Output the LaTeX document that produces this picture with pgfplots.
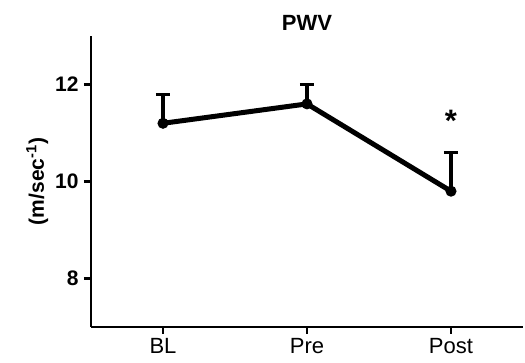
\documentclass[border=0pt]{standalone}
\usepackage{fontspec}
\setmainfont{Liberation Sans}
\usepackage{pgfplots}
\pgfplotsset{compat=1.18}
\begin{document}
\begin{tikzpicture}
\begin{axis}[
  at={(0pt,0pt)}, anchor=south west,
  scale only axis,
  width=432pt, height=291pt,
  xmin=-0.5, xmax=2.5,
  ymin=7, ymax=13,
  axis x line*=bottom, axis y line*=left,
  axis line style={line width=2.3pt},
  xtick={0,1,2},
  xticklabels={BL,Pre,Post},
  ytick={8,10,12},
  tick align=outside,
  major tick length=7pt,
  tick style={line width=2.3pt, black},
  /pgf/number format/assume math mode=true,
  xticklabel style={font=\fontsize{22}{24}\selectfont, yshift=-1pt},
  yticklabel style={font=\fontsize{21}{24}\selectfont\bfseries, xshift=-2pt},
  title={PWV},
  title style={font=\fontsize{22}{24}\selectfont\bfseries, yshift=-4pt},
  ylabel={(m/sec\textsuperscript{-1})},
  ylabel style={font=\fontsize{21}{24}\selectfont\bfseries},
  clip=false,
]
\addplot[black, line width=5pt, mark=*, mark size=5pt, mark options={line width=1pt},
  error bars/.cd, y dir=plus, y explicit,
  error bar style={line width=3.2pt, black},
  error mark options={rotate=90, mark size=7pt, line width=3.2pt, black}]
coordinates {
  (0,11.2) +- (0,0.6)
  (1,11.6) +- (0,0.4)
  (2,9.8) +- (0,0.8)
};
\node[font=\fontsize{31}{31}\selectfont\bfseries] at (axis cs:2,11.25) {*};
\end{axis}
\pgfresetboundingbox
\useasboundingbox (-91pt,-36pt) rectangle (434pt,327pt);
\end{tikzpicture}
\end{document}
